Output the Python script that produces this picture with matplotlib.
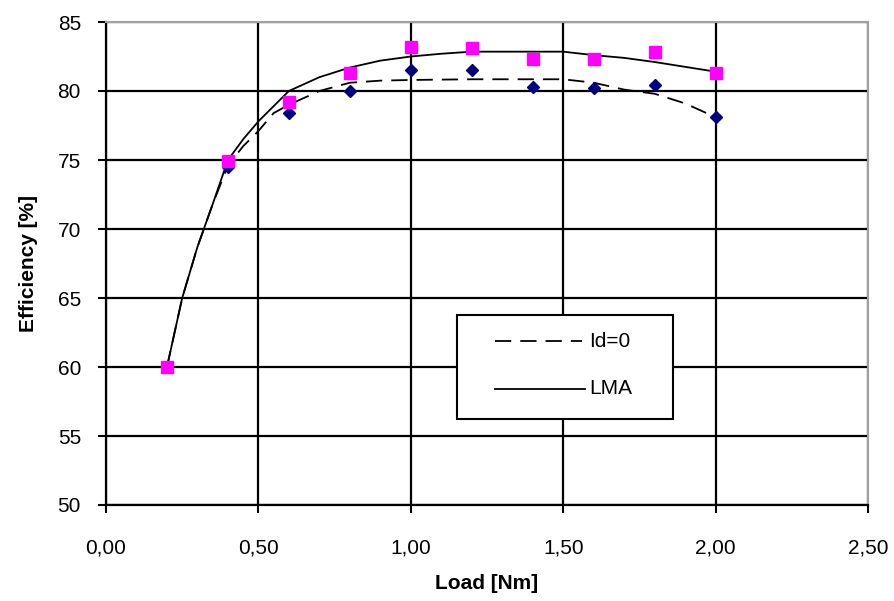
import matplotlib
matplotlib.use("Agg")
import matplotlib.pyplot as plt
from matplotlib.patches import Rectangle
from matplotlib.lines import Line2D

plt.rcParams['font.family'] = ['Liberation Sans', 'DejaVu Sans']

# Measured points
load_pts = [0.2, 0.4, 0.6, 0.8, 1.0, 1.2, 1.4, 1.6, 1.8, 2.0]
lma_pts = [60.0, 74.9, 79.2, 81.3, 83.2, 83.1, 82.3, 82.3, 82.8, 81.3]
id0_pts = [60.0, 74.5, 78.4, 80.0, 81.5, 81.5, 80.3, 80.2, 80.4, 78.1]

# Curves
lma_x = [0.20, 0.25, 0.30, 0.35, 0.40, 0.45, 0.50, 0.60, 0.70, 0.80, 0.90,
         1.00, 1.10, 1.20, 1.50, 1.60, 1.70, 1.80, 1.90, 2.00]
lma_y = [60.0, 65.0, 68.7, 71.8, 75.0, 76.5, 77.8, 80.0, 81.0, 81.7, 82.2,
         82.5, 82.7, 82.85, 82.85, 82.6, 82.4, 82.1, 81.75, 81.4]
id0_x = [0.20, 0.25, 0.30, 0.35, 0.40, 0.45, 0.50, 0.55, 0.60, 0.70, 0.80,
         0.90, 1.00, 1.20, 1.50, 1.60, 1.70, 1.80, 1.90, 2.00]
id0_y = [60.0, 65.0, 68.7, 71.8, 74.6, 76.0, 77.1, 78.4, 79.0, 80.0, 80.6,
         80.75, 80.8, 80.85, 80.85, 80.6, 80.1, 79.8, 79.1, 78.1]

x_ticks = [0.0, 0.5, 1.0, 1.5, 2.0, 2.5]
x_labels = ['0,00', '0,50', '1,00', '1,50', '2,00', '2,50']
y_ticks = [50, 55, 60, 65, 70, 75, 80, 85]
legend_labels = ['Id=0', 'LMA']

W, H = 895, 601
fig = plt.figure(figsize=(W/100, H/100), dpi=100)
ax = fig.add_axes([106/W, 1-505/H, (868-106)/W, (505-22)/H])

ax.set_xlim(0, 2.5)
ax.set_ylim(50, 85)
ax.set_xticks(x_ticks)
ax.set_xticklabels(x_labels)
ax.set_yticks(y_ticks)
ax.grid(True, color='black', linewidth=1.6)
ax.set_axisbelow(True)

dash = (0, (9, 5))
ax.plot(id0_x, id0_y, color='black', linewidth=1.3, linestyle=dash, zorder=3)
ax.plot(lma_x, lma_y, color='black', linewidth=1.3, linestyle='-', zorder=3)
ax.plot(load_pts, id0_pts, linestyle='none', marker='D', markersize=6.5,
        color='#000080', zorder=4)
ax.plot(load_pts, lma_pts, linestyle='none', marker='s', markersize=8.5,
        color='#ff00ff', zorder=5)

for s in ['top', 'right']:
    ax.spines[s].set_color('#a0a0a0')
    ax.spines[s].set_linewidth(1.5)
for s in ['left', 'bottom']:
    ax.spines[s].set_color('black')
    ax.spines[s].set_linewidth(1.6)

ax.tick_params(axis='both', direction='out', length=6, width=1.5,
               labelsize=15, colors='black')
ax.tick_params(axis='y', pad=12)
ax.tick_params(axis='x', pad=18)

ax.set_xlabel('Load [Nm]', fontsize=15, fontweight='bold', labelpad=12)
ax.set_ylabel('Efficiency [%]', fontsize=15, fontweight='bold', labelpad=14)

# Legend drawn in figure pixel coordinates
def fx(px):
    return px / W

def fy(py):
    return 1 - py / H

fig.patches.append(Rectangle((fx(457), fy(419)), fx(673) - fx(457),
                             fy(315) - fy(419), transform=fig.transFigure,
                             facecolor='white', edgecolor='black',
                             linewidth=1.5, zorder=10))
fig.lines.append(Line2D([fx(495), fx(582)], [fy(341), fy(341)],
                        transform=fig.transFigure, color='black',
                        linewidth=1.3, linestyle=dash, zorder=11))
fig.lines.append(Line2D([fx(495), fx(585)], [fy(389), fy(389)],
                        transform=fig.transFigure, color='black',
                        linewidth=1.3, linestyle='-', zorder=11))
fig.text(fx(589), fy(341), legend_labels[0], fontsize=15, va='center',
         ha='left', zorder=12)
fig.text(fx(589), fy(389), legend_labels[1], fontsize=15, va='center',
         ha='left', zorder=12)

fig.savefig('out.png', dpi=100)
